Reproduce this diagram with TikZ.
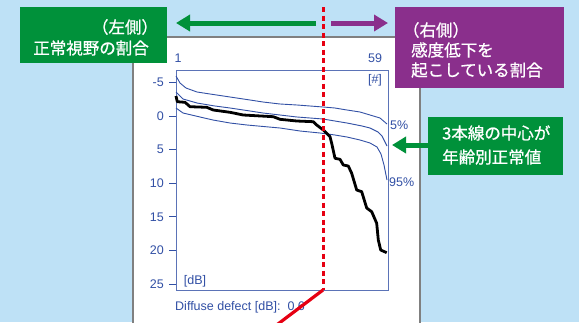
\documentclass[tikz,border=0pt]{standalone}
\usepackage{fontspec}
\setmainfont{Liberation Sans}
\newfontfamily\jp{Noto Sans CJK JP}[FakeBold=0.9]
\usetikzlibrary{arrows.meta}
\definecolor{bg}{RGB}{190,225,246}
\definecolor{mygreen}{RGB}{0,145,58}
\definecolor{mypurple}{RGB}{138,47,140}
\definecolor{plotblue}{RGB}{50,80,165}
\definecolor{myred}{RGB}{230,0,18}
\tikzset{
  jptext/.style={text=white, font=\jp\fontsize{16.5}{18}\selectfont, inner sep=0pt},
  plottext/.style={text=plotblue, font=\fontsize{12.5}{14}\selectfont, inner sep=0pt},
  bigarrow/.style={line width=5pt, -{Triangle[length=14pt,width=16pt]}},
  curve/.style={plotblue, line width=0.9pt, line join=round},
}
\begin{document}
\begin{tikzpicture}[x=1pt,y=-1pt]
\useasboundingbox (0,0) rectangle (579,322);
\clip (0,0) rectangle (579,322);
\fill[bg] (0,0) rectangle (579,322);
% white panel
\filldraw[fill=white, draw=gray, line width=1.2pt] (133,37) rectangle (420,340);
% boxes
\node[fill=mygreen, minimum width=147pt, minimum height=56pt, inner sep=0pt, anchor=north west] (gbox) at (20,7) {};
\node[jptext] (g1) at (125,27) {（左側）};
\node[jptext, anchor=east] (g2) at (149,48) {正常視野の割合};
\node[fill=mypurple, minimum width=169pt, minimum height=81pt, inner sep=0pt, anchor=north west] (pbox) at (395,7) {};
\node[jptext] (p1) at (436,30) {（右側）};
\node[jptext, anchor=west] (p2) at (411,50) {感度低下を};
\node[jptext, anchor=west] (p3) at (411,70) {起こしている割合};
\node[fill=mygreen, minimum width=135pt, minimum height=58pt, inner sep=0pt, anchor=north west] (gbox2) at (428,117) {};
\node[jptext, anchor=west] (q1) at (442,133) {3本線の中心が};
\node[jptext, anchor=west] (q2) at (442,157) {年齢別正常値};
% arrows
\coordinate (ga0) at (316,23);
\coordinate (ga1) at (176,23);
\coordinate (pa0) at (331,23);
\coordinate (pa1) at (388,23);
\coordinate (qa1) at (392,145);
\draw[bigarrow, mygreen] (ga0) -- (ga1);
\draw[bigarrow, mypurple] (pa0) -- (pa1);
\draw[bigarrow, mygreen] (gbox2.west |- qa1) -- (qa1);
% plot frame
\draw[plotblue!80, line width=0.8pt] (176,70) rectangle (388,290);
\foreach \v/\y in {-5/82.4,0/116,5/149.6,10/183.2,15/216.8,20/250.4,25/284}{
  \draw[plotblue, line width=0.8pt] (169,\y) -- (176,\y);
  \node[plottext, anchor=east] (yl\v) at (164,\y) {\v};
}
\node[plottext] (x1) at (178,58) {1};
\node[plottext] (x59) at (375,58) {59};
\node[plottext] (hash) at (375,80) {[\#]};
\node[plottext] (db) at (195,281) {[dB]};
\node[plottext, anchor=west] (p5) at (390,125) {5\%};
\node[plottext, anchor=west] (p95) at (389,182) {95\%};
\node[plottext, anchor=west] (dd) at (175,307) {Diffuse defect [dB]:\ \ 0.6};
% curves
\draw[curve] (176,76) -- (180,83) -- (186,88) -- (197,92) -- (210,94) -- (230,97) -- (250,100) -- (263,102) -- (280,104) -- (297,105) -- (323,107) -- (335,108) -- (347,110) -- (360,112) -- (370,115) -- (380,118) -- (387,124);
\draw[curve] (176,92) -- (183,99) -- (197,103) -- (215,106) -- (230,108) -- (250,111) -- (263,113) -- (280,115) -- (297,117) -- (323,119) -- (347,123) -- (362,126) -- (370,128) -- (378,132) -- (382,136) -- (387,146);
\draw[curve] (176,108) -- (183,113) -- (200,117) -- (213,120) -- (230,123) -- (247,125) -- (280,128) -- (300,131) -- (320,133) -- (335,135) -- (347,137) -- (360,140) -- (370,143) -- (377,147) -- (381,154) -- (384,165) -- (387,180);
\draw[black, line width=2.8pt, line join=round] (176,96) -- (177.3,101.7) -- (185,102.3) -- (187.3,104.3) -- (190,106.7) -- (206.7,107.3) -- (213.3,110) -- (230,112.3) -- (243.3,115) -- (273.3,116.7) -- (280,119.3) -- (296.7,121) -- (313.3,121.7) -- (316.7,125) -- (323.3,130) -- (330,136.7) -- (331.7,143.3) -- (335,158.3) -- (340,159.3) -- (343.3,165) -- (348.3,166) -- (351.7,173.3) -- (356.7,190) -- (361.7,191.7) -- (366.7,208) -- (371.7,211.7) -- (376.7,223.3) -- (378.3,240) -- (380.7,250) -- (386.7,252.7);
% red line
\coordinate (r0) at (323,7);
\coordinate (r1) at (323,290);
\coordinate (r2) at (270,330);
\draw[myred, line width=3pt, dash pattern=on 5pt off 3.5pt] (r0) -- (r1);
\draw[myred, line width=3.2pt] (r1) -- (r2);
\end{tikzpicture}
\end{document}
